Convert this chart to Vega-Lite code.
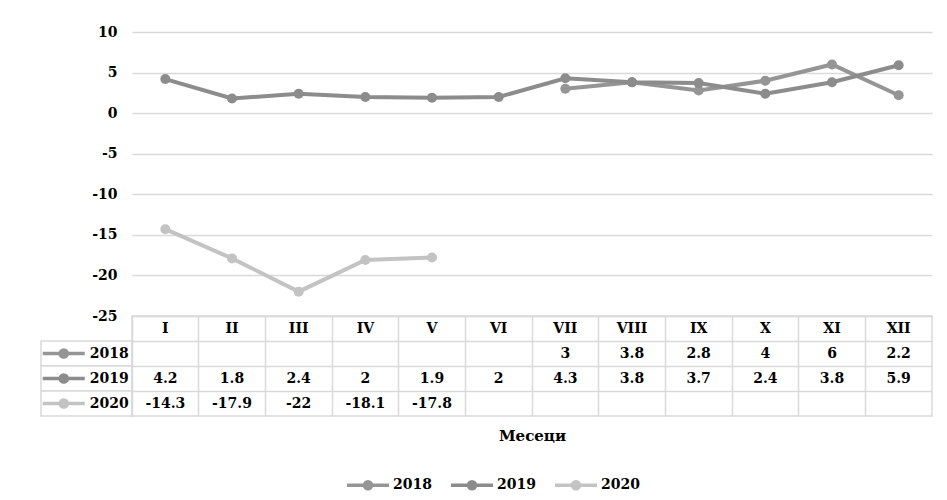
{
  "$schema": "https://vega.github.io/schema/vega-lite/v6.json",
  "padding": {"left": 35, "top": 25, "right": 5, "bottom": 0},
  "autosize": {"type": "pad"},
  "background": "white",
  "config": {
    "font": "DejaVu Serif",
    "view": {"stroke": null},
    "legend": {
      "labelFont": "DejaVu Serif",
      "labelFontWeight": "bold",
      "labelFontSize": 14,
      "labelColor": "#000000"
    }
  },
  "datasets": {
    "series": [
      {"year": "2018", "month": "VII", "value": 3},
      {"year": "2018", "month": "VIII", "value": 3.8},
      {"year": "2018", "month": "IX", "value": 2.8},
      {"year": "2018", "month": "X", "value": 4},
      {"year": "2018", "month": "XI", "value": 6},
      {"year": "2018", "month": "XII", "value": 2.2},
      {"year": "2019", "month": "I", "value": 4.2},
      {"year": "2019", "month": "II", "value": 1.8},
      {"year": "2019", "month": "III", "value": 2.4},
      {"year": "2019", "month": "IV", "value": 2},
      {"year": "2019", "month": "V", "value": 1.9},
      {"year": "2019", "month": "VI", "value": 2},
      {"year": "2019", "month": "VII", "value": 4.3},
      {"year": "2019", "month": "VIII", "value": 3.8},
      {"year": "2019", "month": "IX", "value": 3.7},
      {"year": "2019", "month": "X", "value": 2.4},
      {"year": "2019", "month": "XI", "value": 3.8},
      {"year": "2019", "month": "XII", "value": 5.9},
      {"year": "2020", "month": "I", "value": -14.3},
      {"year": "2020", "month": "II", "value": -17.9},
      {"year": "2020", "month": "III", "value": -22},
      {"year": "2020", "month": "IV", "value": -18.1},
      {"year": "2020", "month": "V", "value": -17.8}
    ],
    "months": [
      {"month": "I"}, {"month": "II"}, {"month": "III"}, {"month": "IV"},
      {"month": "V"}, {"month": "VI"}, {"month": "VII"}, {"month": "VIII"},
      {"month": "IX"}, {"month": "X"}, {"month": "XI"}, {"month": "XII"}
    ],
    "years": [{"year": "2018"}, {"year": "2019"}, {"year": "2020"}]
  },
  "columns": 2,
  "spacing": 0,
  "bounds": "flush",
  "concat": [
    {
      "width": 91,
      "height": 284,
      "data": {"values": [{"k": ""}]},
      "mark": {"type": "text", "text": ""},
      "encoding": {}
    },
    {
      "width": 800,
      "height": 284,
      "data": {"name": "series"},
      "encoding": {
        "x": {
          "field": "month",
          "type": "nominal",
          "scale": {"type": "point", "domain": ["I","II","III","IV","V","VI","VII","VIII","IX","X","XI","XII"], "padding": 0.5},
          "axis": null
        },
        "y": {
          "field": "value",
          "type": "quantitative",
          "scale": {"domain": [-25, 10], "nice": false, "zero": false},
          "axis": {
            "values": [-25, -20, -15, -10, -5, 0, 5, 10],
            "labelExpr": "toString(datum.value)",
            "title": null,
            "ticks": false,
            "domain": false,
            "labelPadding": 15,
            "labelFontWeight": "bold",
            "labelFontSize": 14,
            "labelColor": "#000000",
            "gridColor": "#d9d9d9",
            "gridWidth": 1.5
          }
        },
        "color": {
          "field": "year",
          "type": "nominal",
          "scale": {"domain": ["2018", "2019", "2020"], "range": ["#959595", "#8c8c8c", "#c3c3c3"]},
          "legend": {
            "title": null,
            "orient": "none",
            "direction": "horizontal",
            "legendX": 304,
            "legendY": 430,
            "symbolType": "M-1,0L1,0M0.17,0A0.17,0.17,0,1,1,-0.17,0A0.17,0.17,0,1,1,0.17,0Z",
            "symbolSize": 1764,
            "symbolStrokeWidth": 3.5,
            "labelOffset": 2,
            "columnPadding": 12
          }
        }
      },
      "layer": [
        {"mark": {"type": "line", "strokeWidth": 4}},
        {"mark": {"type": "point", "filled": true, "size": 100, "opacity": 1}}
      ]
    },
    {
      "width": 91,
      "height": 100,
      "data": {"name": "years"},
      "encoding": {
        "y": {
          "field": "year",
          "type": "nominal",
          "scale": {"type": "band", "domain": ["hdr", "2018", "2019", "2020"], "paddingInner": 0, "paddingOuter": 0},
          "axis": null
        }
      },
      "layer": [
        {"mark": {"type": "rect", "fill": "white", "stroke": "#d9d9d9", "strokeWidth": 1.5}},
        {
          "mark": {
            "type": "point",
            "shape": "M-1,0L1,0M0.17,0A0.17,0.17,0,1,1,-0.17,0A0.17,0.17,0,1,1,0.17,0Z",
            "size": 1764,
            "strokeWidth": 3.5,
            "opacity": 1
          },
          "encoding": {
            "x": {"datum": "sym", "type": "nominal", "scale": {"type": "band", "domain": ["sym", "lbl"], "paddingInner": 0, "paddingOuter": 0}, "axis": null},
            "fill": {"field": "year", "type": "nominal", "scale": {"domain": ["2018", "2019", "2020"], "range": ["#959595", "#8c8c8c", "#c3c3c3"]}, "legend": null},
            "stroke": {"field": "year", "type": "nominal", "scale": {"domain": ["2018", "2019", "2020"], "range": ["#959595", "#8c8c8c", "#c3c3c3"]}, "legend": null}
          }
        },
        {
          "mark": {"type": "text", "fontWeight": "bold", "fontSize": 14, "color": "#000000"},
          "encoding": {
            "x": {"datum": "lbl", "type": "nominal"},
            "text": {"field": "year", "type": "nominal"}
          }
        }
      ]
    },
    {
      "width": 800,
      "height": 100,
      "view": {"stroke": "#d9d9d9", "strokeWidth": 1.5},
      "encoding": {
        "x": {
          "field": "month",
          "type": "nominal",
          "scale": {"type": "band", "domain": ["I","II","III","IV","V","VI","VII","VIII","IX","X","XI","XII"], "paddingInner": 0, "paddingOuter": 0},
          "axis": {
            "orient": "bottom",
            "labels": false,
            "ticks": false,
            "domain": false,
            "grid": true,
            "bandPosition": 0,
            "gridColor": "#d9d9d9",
            "gridWidth": 1.5,
            "title": "Месеци",
            "titleFontWeight": "bold",
            "titleFontSize": 15,
            "titleColor": "#000000",
            "titlePadding": 12
          }
        }
      },
      "layer": [
        {
          "data": {"name": "series"},
          "mark": {"type": "text", "fontWeight": "bold", "fontSize": 14, "color": "#000000"},
          "encoding": {
            "y": {
              "field": "year",
              "type": "nominal",
              "scale": {"type": "band", "domain": ["hdr", "2018", "2019", "2020"], "paddingInner": 0, "paddingOuter": 0},
              "axis": {
                "labels": false,
                "ticks": false,
                "domain": false,
                "grid": true,
                "bandPosition": 0,
                "gridColor": "#d9d9d9",
                "gridWidth": 1.5,
                "title": null
              }
            },
            "text": {"field": "value", "type": "nominal"}
          }
        },
        {
          "data": {"name": "months"},
          "mark": {"type": "text", "fontWeight": "bold", "fontSize": 14, "color": "#000000"},
          "encoding": {
            "y": {"datum": "hdr", "type": "nominal"},
            "text": {"field": "month", "type": "nominal"}
          }
        }
      ]
    }
  ]
}
